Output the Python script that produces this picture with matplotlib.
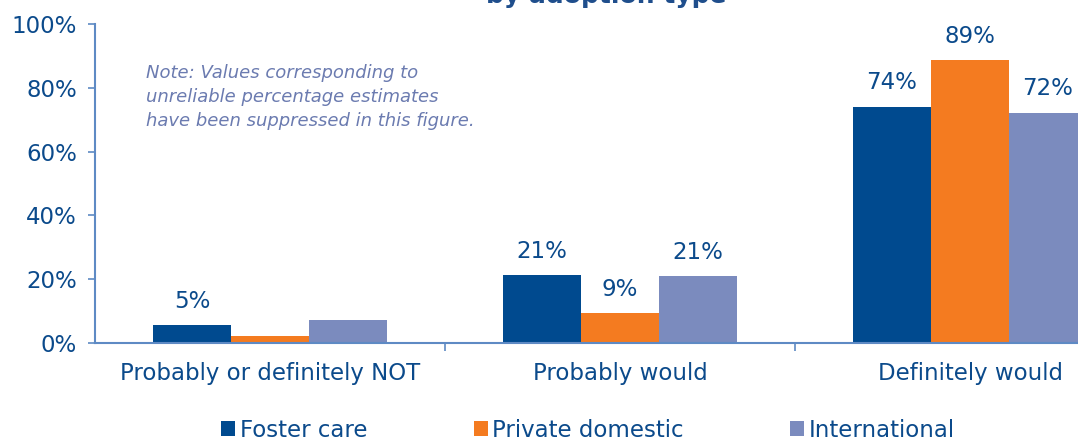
import matplotlib.pyplot as plt
import numpy as np
from matplotlib.patches import Patch

# data
categories = ['Probably or definitely NOT', 'Probably would', 'Definitely would']
series = ['Foster care', 'Private domestic', 'International']
foster = [5.5, 21.3, 74.0]
private = [2.2, 9.4, 88.7]
international = [7.2, 21.0, 72.2]
# None = label suppressed (unreliable estimate)
foster_lbl = ['5%', '21%', '74%']
private_lbl = [None, '9%', '89%']
international_lbl = [None, '21%', '72%']

colors = ['#004A8F', '#F47B20', '#7B8BBE']
text_blue = '#0B4A8B'
spine_blue = '#5E8AC4'
fs = 16.5

plt.rcParams['font.family'] = 'DejaVu Sans'

W, H = 1078, 440
fig = plt.figure(figsize=(W / 100, H / 100), dpi=100)
# axes runs past the right edge of the image, as in the reference
ax = fig.add_axes([95 / W, (H - 343) / H, 1050 / W, 319 / H])

x = np.arange(len(categories))
bw = 0.223
vals = [foster, private, international]
lbls = [foster_lbl, private_lbl, international_lbl]
for i, (v, lab, c) in enumerate(zip(vals, lbls, colors)):
    bars = ax.bar(x + (i - 1) * bw, v, bw, color=c, label=series[i], zorder=2)
    for b, t in zip(bars, lab):
        if t is None:
            continue
        ax.annotate(t, (b.get_x() + b.get_width() / 2, b.get_height()),
                    xytext=(0, 9), textcoords='offset points',
                    ha='center', va='bottom', fontsize=fs, color=text_blue)

ax.set_xlim(-0.5, 2.5)
ax.set_ylim(0, 100)
ax.set_yticks(np.arange(0, 101, 20))
ax.set_yticklabels([f'{v}%' for v in range(0, 101, 20)])
ax.set_xticks(x)
ax.set_xticklabels(categories)
ax.set_xticks([0.5, 1.5], minor=True)

for s in ['top', 'right']:
    ax.spines[s].set_visible(False)
for s in ['left', 'bottom']:
    ax.spines[s].set_color(spine_blue)
    ax.spines[s].set_linewidth(1.5)

ax.tick_params(axis='y', colors=spine_blue, labelcolor=text_blue,
               labelsize=fs, length=5, width=1.2, pad=8)
ax.tick_params(axis='x', which='major', length=0, pad=14,
               labelsize=fs, labelcolor=text_blue)
ax.tick_params(axis='x', which='minor', length=6, width=1.2,
               color=spine_blue)

ax.text((146 - 95) / 350 - 0.5, 87.5,
        'Note: Values corresponding to\nunreliable percentage estimates\nhave been suppressed in this figure.',
        fontsize=13, style='italic', color='#6B7BB0', va='top', ha='left',
        linespacing=1.42)

# title is cut off by the top edge in the reference
fig.text(606 / W, 1 - 3 / H, 'by adoption type', ha='center', va='baseline',
         fontsize=18, fontweight='bold', color='#1F4E8C')

handles = [Patch(facecolor=c, label=s) for c, s in zip(colors, series)]
leg = fig.legend(handles=handles, loc='center', ncol=3,
                 bbox_to_anchor=(588 / W, 1 - 430 / H), frameon=False,
                 fontsize=fs, handlelength=0.6, handleheight=0.6,
                 handletextpad=0.2, columnspacing=4.65)
for t in leg.get_texts():
    t.set_color(text_blue)

fig.savefig('out.png', dpi=100)
